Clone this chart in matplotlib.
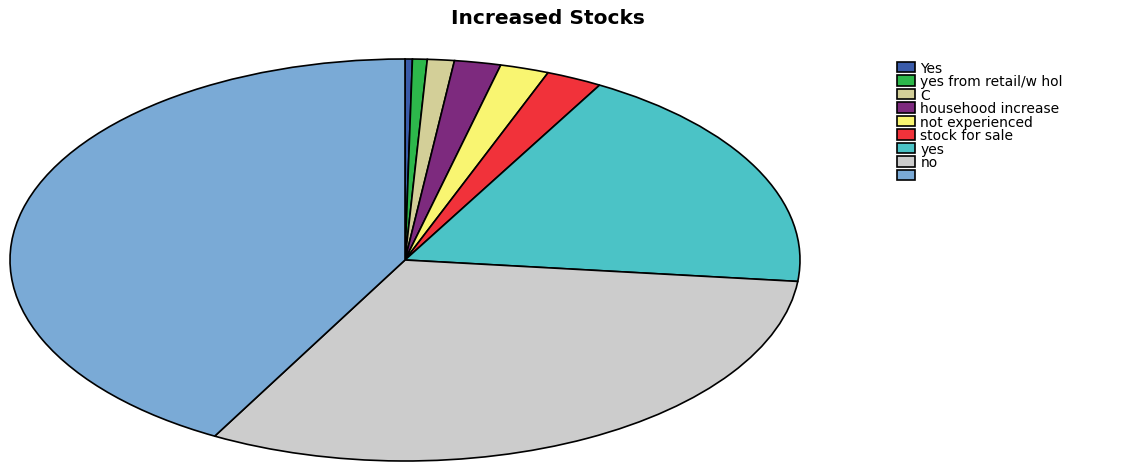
import matplotlib.pyplot as plt

# slice shares in percent, clockwise from the top
labels = ['Yes', 'yes from retail/w hol', 'C', 'househood increase',
          'not experienced', 'stock for sale', 'yes', 'no', '']
values = [0.3, 0.6, 1.1, 1.9, 2.0, 2.3, 18.5, 31.3, 42.0]
colors = ['#3A5BA9', '#2DB84B', '#D3CF98', '#7D2A7E', '#F9F571',
          '#F1323A', '#4BC3C6', '#CCCCCC', '#7AAAD6']

fig = plt.figure(figsize=(11.21, 4.64), dpi=100)
# axes stretched so the pie becomes a wide ellipse
ax = fig.add_axes([10 / 1121, 2 / 464, 790 / 1121, 402 / 464])
wedges, _ = ax.pie(values, colors=colors, startangle=90, counterclock=False,
                   wedgeprops=dict(edgecolor='black', linewidth=1.2))
ax.set_aspect('auto')
ax.set_xlim(-1.0, 1.0)
ax.set_ylim(-1.0, 1.0)
ax.axis('off')

fig.text(548 / 1121, 1 - 19 / 464, 'Increased Stocks', ha='center', va='center',
         fontsize=14.5, fontweight='bold', family='DejaVu Sans')

leg = fig.legend(wedges, labels, loc='upper left',
                 bbox_to_anchor=(887 / 1121, 1 - 52 / 464),
                 frameon=False, handlelength=1.3, handleheight=0.8,
                 handletextpad=0.4, labelspacing=-0.035, borderpad=0.2,
                 prop={'family': 'DejaVu Sans', 'size': 10})
for h in leg.legend_handles:
    h.set_linewidth(1.2)

fig.savefig('out.png', dpi=100)
